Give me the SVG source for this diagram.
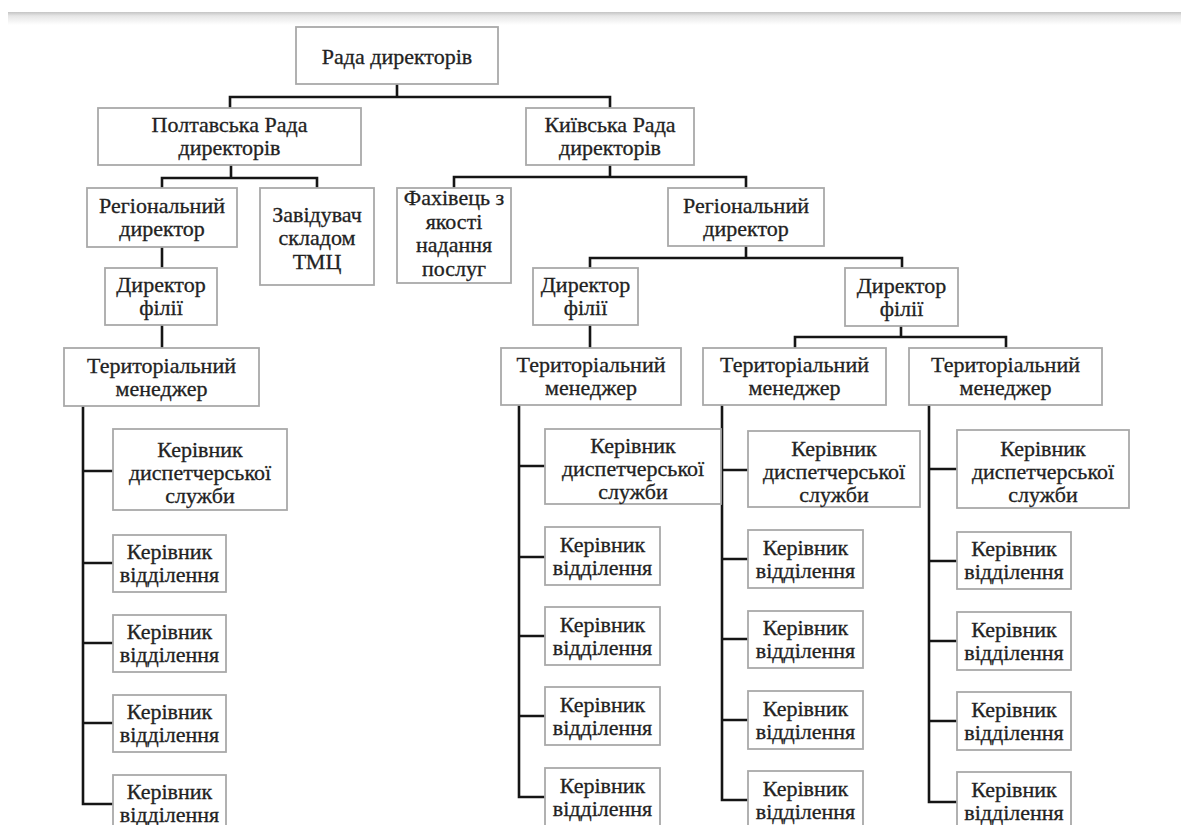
<svg xmlns="http://www.w3.org/2000/svg" width="1181" height="825" viewBox="0 0 1181 825">
<defs>
<linearGradient id="shade" x1="0" y1="0" x2="0" y2="1">
<stop offset="0" stop-color="#c4c4c4"/>
<stop offset="0.3" stop-color="#e6e6e6"/>
<stop offset="1" stop-color="#ffffff"/>
</linearGradient>
</defs>
<style>
.box{fill:#fff;stroke:#a9a9a9;stroke-width:1.8}
.t{font-size:22px;fill:#222;stroke:#222;stroke-width:0.3;text-anchor:middle}
.c{fill:none;stroke:#151515;stroke-width:2.6;stroke-linecap:square}
</style>
<rect x="0" y="0" width="1181" height="825" fill="#fff"/>
<rect x="8" y="12" width="1173" height="13" fill="url(#shade)"/>

<g id="connectors">
<path class="c" d="M397,84 V97 M230,108 V97 H610 V108"/>
<path class="c" d="M231,165 V178 M162,188 V178 H317 V188"/>
<path class="c" d="M162,247 V268"/>
<path class="c" d="M162,325 V348"/>
<path class="c" d="M83,406 V804 M83,471 H113 M83,563 H113 M83,643 H113 M83,723 H113 M83,804 H113"/>
<path class="c" d="M610,165 V177 M454,188 V177 H746 V188"/>
<path class="c" d="M746,246 V258 M590,268 V258 H902 V268"/>
<path class="c" d="M590,325 V348"/>
<path class="c" d="M901,326 V337 M795,348 V337 H1006 V348"/>
<path class="c" d="M519,405 V797 M519,466 H545 M519,557 H545 M519,636 H545 M519,716 H545 M519,797 H545"/>
<path class="c" d="M722,405 V800 M722,470 H748 M722,559 H748 M722,639 H748 M722,720 H748 M722,800 H748"/>
<path class="c" d="M929,405 V802 M929,469 H957 M929,561 H957 M929,641 H957 M929,721 H957 M929,802 H957"/>
</g>

<g font-family="'Liberation Serif', 'DejaVu Serif', 'Times New Roman', serif">
<g id="rada">
<rect class="box" x="296" y="27" width="202" height="57"/>
<text class="t" x="397" y="63.5">Рада директорів</text>
</g>
<g id="poltava">
<rect class="box" x="98" y="108" width="263" height="57"/>
<text class="t" x="229.5" y="132">Полтавська Рада</text>
<text class="t" x="229.5" y="155">директорів</text>
</g>
<g id="kyiv">
<rect class="box" x="526" y="108" width="168" height="57"/>
<text class="t" x="610" y="132">Київська Рада</text>
<text class="t" x="610" y="155">директорів</text>
</g>
<g id="p-regional">
<rect class="box" x="87" y="188" width="150" height="59"/>
<text class="t" x="162" y="213">Регіональний</text>
<text class="t" x="162" y="236">директор</text>
</g>
<g id="p-zav">
<rect class="box" x="260" y="188" width="114" height="97"/>
<text class="t" x="317" y="221.5">Завідувач</text>
<text class="t" x="317" y="245">складом</text>
<text class="t" x="317" y="268.5">ТМЦ</text>
</g>
<g id="k-fah">
<rect class="box" x="397" y="188" width="114" height="95"/>
<text class="t" x="454" y="205">Фахівець з</text>
<text class="t" x="454" y="228.5">якості</text>
<text class="t" x="454" y="252">надання</text>
<text class="t" x="454" y="275.5">послуг</text>
</g>
<g id="k-regional">
<rect class="box" x="668" y="188" width="156" height="58"/>
<text class="t" x="746" y="212.5">Регіональний</text>
<text class="t" x="746" y="235.5">директор</text>
</g>
<g id="p-dir">
<rect class="box" x="105" y="268" width="112" height="57"/>
<text class="t" x="161" y="292">Директор</text>
<text class="t" x="161" y="315">філії</text>
</g>
<g id="k-dir1">
<rect class="box" x="533" y="268" width="105" height="57"/>
<text class="t" x="585.5" y="292">Директор</text>
<text class="t" x="585.5" y="315">філії</text>
</g>
<g id="k-dir2">
<rect class="box" x="845" y="268" width="113" height="58"/>
<text class="t" x="901.5" y="292.5">Директор</text>
<text class="t" x="901.5" y="315.5">філії</text>
</g>
<g id="p-ter">
<rect class="box" x="64" y="348" width="195" height="58"/>
<text class="t" x="161.5" y="372.5">Територіальний</text>
<text class="t" x="161.5" y="395.5">менеджер</text>
</g>
<g id="k-ter1">
<rect class="box" x="501" y="348" width="180" height="57"/>
<text class="t" x="591" y="372">Територіальний</text>
<text class="t" x="591" y="395">менеджер</text>
</g>
<g id="k-ter2">
<rect class="box" x="703" y="348" width="183" height="57"/>
<text class="t" x="794.5" y="372">Територіальний</text>
<text class="t" x="794.5" y="395">менеджер</text>
</g>
<g id="k-ter3">
<rect class="box" x="909" y="348" width="193" height="57"/>
<text class="t" x="1005.5" y="372">Територіальний</text>
<text class="t" x="1005.5" y="395">менеджер</text>
</g>

<g id="p-disp">
<rect class="box" x="113" y="429" width="174" height="81"/>
<text class="t" x="200" y="456.5">Керівник</text>
<text class="t" x="200" y="479.5">диспетчерської</text>
<text class="t" x="200" y="502.5">служби</text>
</g>
<g id="p-dep1">
<rect class="box" x="113" y="535" width="113" height="57"/>
<text class="t" x="169.5" y="559">Керівник</text>
<text class="t" x="169.5" y="582">відділення</text>
</g>
<g id="p-dep2">
<rect class="box" x="113" y="615" width="113" height="57"/>
<text class="t" x="169.5" y="639">Керівник</text>
<text class="t" x="169.5" y="662">відділення</text>
</g>
<g id="p-dep3">
<rect class="box" x="113" y="695" width="113" height="57"/>
<text class="t" x="169.5" y="719">Керівник</text>
<text class="t" x="169.5" y="742">відділення</text>
</g>
<g id="p-dep4">
<rect class="box" x="113" y="775" width="113" height="57"/>
<text class="t" x="169.5" y="799">Керівник</text>
<text class="t" x="169.5" y="822">відділення</text>
</g>

<g id="k1-disp">
<rect class="box" x="545" y="429" width="176" height="75"/>
<text class="t" x="633" y="453">Керівник</text>
<text class="t" x="633" y="476">диспетчерської</text>
<text class="t" x="633" y="499">служби</text>
</g>
<g id="k1-dep1">
<rect class="box" x="545" y="527" width="115" height="58"/>
<text class="t" x="602.5" y="551.5">Керівник</text>
<text class="t" x="602.5" y="574.5">відділення</text>
</g>
<g id="k1-dep2">
<rect class="box" x="545" y="607" width="115" height="58"/>
<text class="t" x="602.5" y="631.5">Керівник</text>
<text class="t" x="602.5" y="654.5">відділення</text>
</g>
<g id="k1-dep3">
<rect class="box" x="545" y="687" width="115" height="58"/>
<text class="t" x="602.5" y="711.5">Керівник</text>
<text class="t" x="602.5" y="734.5">відділення</text>
</g>
<g id="k1-dep4">
<rect class="box" x="545" y="768" width="115" height="58"/>
<text class="t" x="602.5" y="792.5">Керівник</text>
<text class="t" x="602.5" y="815.5">відділення</text>
</g>

<g id="k2-disp">
<rect class="box" x="748" y="431" width="172" height="76"/>
<text class="t" x="834" y="456">Керівник</text>
<text class="t" x="834" y="479">диспетчерської</text>
<text class="t" x="834" y="502">служби</text>
</g>
<g id="k2-dep1">
<rect class="box" x="748" y="530" width="115" height="58"/>
<text class="t" x="805.5" y="554.5">Керівник</text>
<text class="t" x="805.5" y="577.5">відділення</text>
</g>
<g id="k2-dep2">
<rect class="box" x="748" y="611" width="115" height="57"/>
<text class="t" x="805.5" y="635">Керівник</text>
<text class="t" x="805.5" y="658">відділення</text>
</g>
<g id="k2-dep3">
<rect class="box" x="748" y="691" width="115" height="58"/>
<text class="t" x="805.5" y="715.5">Керівник</text>
<text class="t" x="805.5" y="738.5">відділення</text>
</g>
<g id="k2-dep4">
<rect class="box" x="748" y="771" width="115" height="58"/>
<text class="t" x="805.5" y="795.5">Керівник</text>
<text class="t" x="805.5" y="818.5">відділення</text>
</g>

<g id="k3-disp">
<rect class="box" x="957" y="430" width="172" height="78"/>
<text class="t" x="1043" y="456">Керівник</text>
<text class="t" x="1043" y="479">диспетчерської</text>
<text class="t" x="1043" y="502">служби</text>
</g>
<g id="k3-dep1">
<rect class="box" x="957" y="532" width="114" height="57"/>
<text class="t" x="1014" y="556">Керівник</text>
<text class="t" x="1014" y="579">відділення</text>
</g>
<g id="k3-dep2">
<rect class="box" x="957" y="612" width="114" height="58"/>
<text class="t" x="1014" y="636.5">Керівник</text>
<text class="t" x="1014" y="659.5">відділення</text>
</g>
<g id="k3-dep3">
<rect class="box" x="957" y="692" width="114" height="58"/>
<text class="t" x="1014" y="716.5">Керівник</text>
<text class="t" x="1014" y="739.5">відділення</text>
</g>
<g id="k3-dep4">
<rect class="box" x="957" y="772" width="114" height="58"/>
<text class="t" x="1014" y="796.5">Керівник</text>
<text class="t" x="1014" y="819.5">відділення</text>
</g>
</g>
</svg>
